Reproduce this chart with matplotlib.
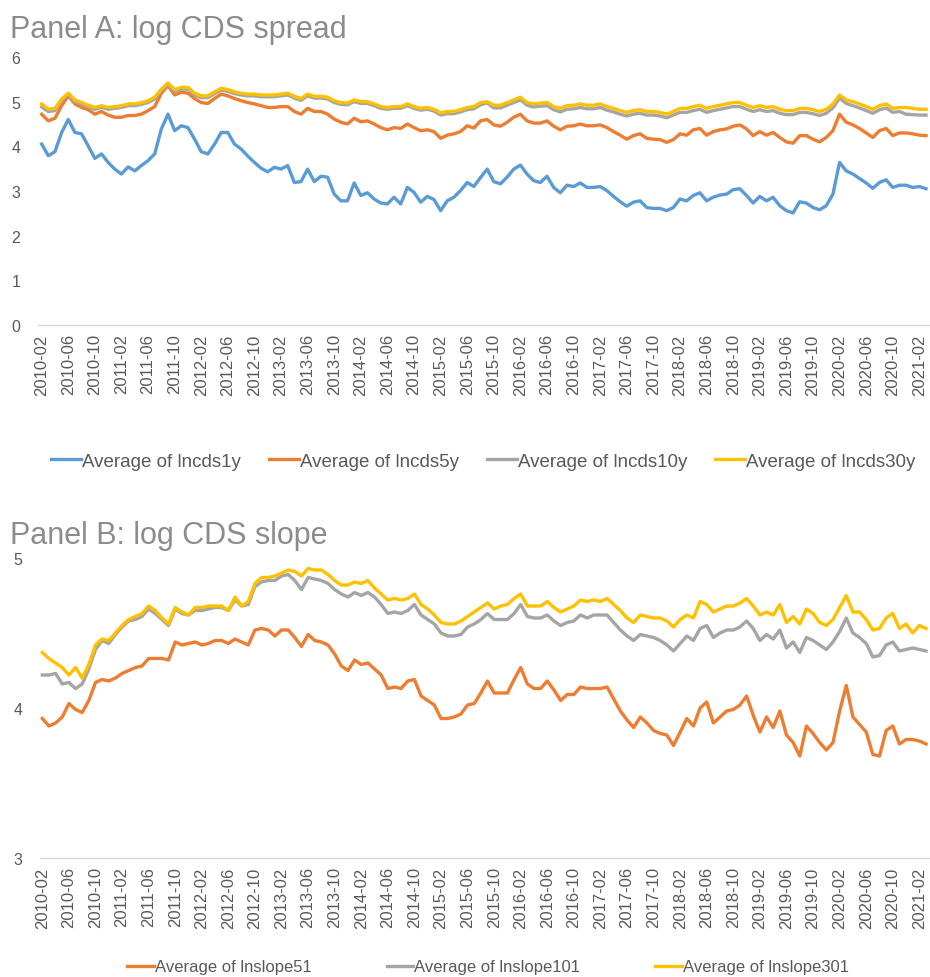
import numpy as np
import pandas as pd
import matplotlib
matplotlib.use("Agg")
import matplotlib.pyplot as plt

plt.rcParams['font.family'] = ['Liberation Sans', 'DejaVu Sans']

# monthly averages, 2010-02 .. 2021-03
months = pd.period_range('2010-02', '2021-03', freq='M').strftime('%Y-%m').tolist()

lncds1y = [4.05, 3.79, 3.88, 4.31, 4.60, 4.31, 4.28, 4.01, 3.73, 3.83,
           3.64, 3.49, 3.38, 3.54, 3.45, 3.57, 3.68, 3.83, 4.39, 4.72,
           4.35, 4.46, 4.42, 4.16, 3.88, 3.83, 4.05, 4.31, 4.31, 4.05,
           3.94, 3.78, 3.64, 3.51, 3.43, 3.53, 3.49, 3.57, 3.19, 3.21,
           3.49, 3.21, 3.33, 3.31, 2.93, 2.78, 2.78, 3.18, 2.90, 2.96,
           2.82, 2.73, 2.71, 2.86, 2.71, 3.08, 2.97, 2.75, 2.88, 2.81,
           2.56, 2.78, 2.86, 3.01, 3.19, 3.10, 3.30, 3.49, 3.21, 3.16,
           3.31, 3.49, 3.58, 3.38, 3.23, 3.19, 3.33, 3.08, 2.96, 3.13,
           3.10, 3.18, 3.08, 3.08, 3.10, 3.01, 2.88, 2.76, 2.66, 2.75,
           2.78, 2.63, 2.61, 2.61, 2.56, 2.63, 2.82, 2.78, 2.90, 2.96,
           2.78, 2.86, 2.91, 2.93, 3.03, 3.05, 2.90, 2.73, 2.88, 2.78,
           2.86, 2.67, 2.56, 2.51, 2.76, 2.73, 2.63, 2.58, 2.67, 2.93,
           3.64, 3.45, 3.38, 3.28, 3.18, 3.06, 3.19, 3.25, 3.08, 3.13,
           3.13, 3.08, 3.10, 3.05]
lncds5y = [4.72, 4.57, 4.63, 4.91, 5.13, 4.95, 4.87, 4.82, 4.72, 4.78,
           4.70, 4.65, 4.65, 4.69, 4.69, 4.72, 4.80, 4.89, 5.19, 5.36,
           5.15, 5.21, 5.19, 5.07, 4.98, 4.96, 5.07, 5.17, 5.13, 5.07,
           5.02, 4.98, 4.95, 4.91, 4.87, 4.87, 4.89, 4.89, 4.78, 4.72,
           4.85, 4.78, 4.78, 4.72, 4.61, 4.54, 4.50, 4.63, 4.55, 4.57,
           4.50, 4.42, 4.37, 4.42, 4.40, 4.50, 4.42, 4.35, 4.37, 4.33,
           4.18, 4.25, 4.28, 4.33, 4.46, 4.41, 4.57, 4.60, 4.48, 4.45,
           4.54, 4.65, 4.72, 4.57, 4.52, 4.52, 4.57, 4.45, 4.37, 4.45,
           4.46, 4.50, 4.46, 4.46, 4.48, 4.42, 4.33, 4.25, 4.16, 4.24,
           4.28, 4.18, 4.16, 4.15, 4.09, 4.15, 4.28, 4.25, 4.37, 4.40,
           4.25, 4.33, 4.37, 4.39, 4.45, 4.48, 4.39, 4.24, 4.33, 4.25,
           4.31, 4.20, 4.10, 4.07, 4.24, 4.24, 4.16, 4.10, 4.20, 4.35,
           4.72, 4.54, 4.48, 4.40, 4.30, 4.20, 4.35, 4.40, 4.24, 4.30,
           4.30, 4.28, 4.25, 4.24]
lncds10y = [4.88, 4.78, 4.80, 5.02, 5.16, 5.00, 4.94, 4.88, 4.83, 4.87,
            4.83, 4.85, 4.87, 4.91, 4.91, 4.94, 4.98, 5.06, 5.25, 5.38,
            5.23, 5.28, 5.28, 5.15, 5.09, 5.09, 5.18, 5.26, 5.23, 5.18,
            5.15, 5.13, 5.13, 5.11, 5.11, 5.11, 5.13, 5.15, 5.08, 5.03,
            5.13, 5.08, 5.08, 5.06, 4.98, 4.94, 4.93, 5.00, 4.96, 4.96,
            4.91, 4.85, 4.83, 4.85, 4.85, 4.91, 4.85, 4.81, 4.83, 4.79,
            4.70, 4.73, 4.73, 4.77, 4.82, 4.84, 4.93, 4.97, 4.86, 4.86,
            4.92, 4.98, 5.04, 4.92, 4.88, 4.90, 4.91, 4.82, 4.77, 4.83,
            4.84, 4.87, 4.84, 4.84, 4.87, 4.81, 4.77, 4.72, 4.68, 4.72,
            4.74, 4.70, 4.70, 4.68, 4.64, 4.70, 4.76, 4.76, 4.80, 4.83,
            4.76, 4.80, 4.83, 4.86, 4.89, 4.89, 4.83, 4.78, 4.82, 4.78,
            4.80, 4.74, 4.71, 4.71, 4.76, 4.76, 4.73, 4.69, 4.74, 4.86,
            5.08, 4.96, 4.91, 4.86, 4.80, 4.74, 4.82, 4.86, 4.76, 4.78,
            4.72, 4.71, 4.70, 4.70]
lncds30y = [4.95, 4.83, 4.85, 5.06, 5.19, 5.04, 4.98, 4.92, 4.87, 4.91,
            4.87, 4.89, 4.91, 4.95, 4.95, 4.98, 5.02, 5.10, 5.28, 5.42,
            5.27, 5.32, 5.32, 5.19, 5.13, 5.13, 5.22, 5.30, 5.27, 5.22,
            5.19, 5.17, 5.17, 5.15, 5.15, 5.15, 5.17, 5.19, 5.12, 5.07,
            5.17, 5.12, 5.12, 5.10, 5.02, 4.98, 4.97, 5.04, 5.00, 5.00,
            4.95, 4.89, 4.87, 4.89, 4.89, 4.95, 4.89, 4.85, 4.87, 4.83,
            4.75, 4.78, 4.78, 4.82, 4.87, 4.89, 4.98, 5.00, 4.92, 4.92,
            4.98, 5.04, 5.10, 4.98, 4.95, 4.97, 4.98, 4.89, 4.85, 4.91,
            4.92, 4.95, 4.92, 4.92, 4.95, 4.89, 4.85, 4.80, 4.76, 4.80,
            4.82, 4.78, 4.78, 4.76, 4.72, 4.78, 4.85, 4.85, 4.89, 4.92,
            4.85, 4.89, 4.92, 4.95, 4.98, 4.98, 4.92, 4.87, 4.91, 4.87,
            4.89, 4.83, 4.80, 4.80, 4.85, 4.85, 4.82, 4.78, 4.83, 4.95,
            5.15, 5.04, 5.00, 4.95, 4.89, 4.83, 4.91, 4.95, 4.85, 4.87,
            4.87, 4.85, 4.83, 4.83]

lnslope51 = [3.93, 3.88, 3.90, 3.94, 4.03, 3.99, 3.97, 4.05, 4.17, 4.19,
             4.18, 4.20, 4.23, 4.25, 4.27, 4.28, 4.33, 4.33, 4.33, 4.32,
             4.44, 4.42, 4.43, 4.44, 4.42, 4.43, 4.45, 4.45, 4.43, 4.46,
             4.44, 4.42, 4.52, 4.53, 4.52, 4.48, 4.52, 4.52, 4.47, 4.41,
             4.49, 4.45, 4.44, 4.42, 4.36, 4.28, 4.25, 4.32, 4.29, 4.30,
             4.26, 4.22, 4.13, 4.14, 4.13, 4.18, 4.19, 4.08, 4.05, 4.02,
             3.93, 3.93, 3.94, 3.96, 4.02, 4.03, 4.10, 4.18, 4.10, 4.10,
             4.10, 4.19, 4.27, 4.16, 4.13, 4.13, 4.18, 4.12, 4.05, 4.09,
             4.09, 4.14, 4.13, 4.13, 4.13, 4.14, 4.06, 3.98, 3.92, 3.87,
             3.94, 3.90, 3.85, 3.83, 3.82, 3.75, 3.84, 3.93, 3.88, 4.00,
             4.04, 3.90, 3.94, 3.98, 3.99, 4.02, 4.08, 3.95, 3.84, 3.94,
             3.87, 3.98, 3.82, 3.77, 3.68, 3.88, 3.83, 3.77, 3.72, 3.77,
             3.98, 4.15, 3.94, 3.89, 3.84, 3.69, 3.68, 3.85, 3.88, 3.76,
             3.79, 3.79, 3.78, 3.76]
lnslope101 = [4.22, 4.22, 4.23, 4.16, 4.17, 4.13, 4.16, 4.26, 4.39, 4.45,
              4.43, 4.49, 4.54, 4.58, 4.59, 4.61, 4.66, 4.63, 4.59, 4.55,
              4.66, 4.63, 4.62, 4.65, 4.65, 4.66, 4.67, 4.67, 4.65, 4.72,
              4.68, 4.69, 4.81, 4.84, 4.85, 4.85, 4.88, 4.89, 4.85, 4.79,
              4.87, 4.86, 4.85, 4.83, 4.79, 4.76, 4.74, 4.77, 4.75, 4.77,
              4.74, 4.69, 4.63, 4.64, 4.63, 4.65, 4.69, 4.62, 4.59, 4.56,
              4.50, 4.48, 4.48, 4.49, 4.54, 4.56, 4.59, 4.63, 4.59, 4.59,
              4.59, 4.63, 4.69, 4.61, 4.60, 4.60, 4.62, 4.58, 4.55, 4.57,
              4.58, 4.62, 4.60, 4.62, 4.62, 4.62, 4.57, 4.52, 4.48, 4.45,
              4.49, 4.48, 4.47, 4.45, 4.42, 4.38, 4.43, 4.48, 4.45, 4.53,
              4.55, 4.47, 4.50, 4.52, 4.52, 4.54, 4.58, 4.53, 4.45, 4.49,
              4.46, 4.52, 4.40, 4.44, 4.37, 4.47, 4.45, 4.42, 4.39, 4.44,
              4.51, 4.60, 4.50, 4.47, 4.43, 4.34, 4.35, 4.42, 4.44, 4.38,
              4.39, 4.40, 4.39, 4.38]
lnslope301 = [4.37, 4.33, 4.30, 4.27, 4.22, 4.27, 4.20, 4.29, 4.42, 4.46,
              4.45, 4.50, 4.55, 4.59, 4.61, 4.63, 4.68, 4.65, 4.60, 4.56,
              4.67, 4.64, 4.62, 4.67, 4.67, 4.68, 4.68, 4.68, 4.65, 4.74,
              4.68, 4.71, 4.83, 4.87, 4.87, 4.88, 4.90, 4.92, 4.91, 4.88,
              4.93, 4.92, 4.92, 4.89, 4.85, 4.82, 4.82, 4.84, 4.83, 4.85,
              4.80, 4.76, 4.72, 4.73, 4.72, 4.73, 4.76, 4.69, 4.66, 4.62,
              4.57, 4.56, 4.56, 4.58, 4.61, 4.64, 4.67, 4.70, 4.66, 4.68,
              4.69, 4.73, 4.76, 4.68, 4.68, 4.68, 4.71, 4.67, 4.64, 4.66,
              4.68, 4.72, 4.71, 4.72, 4.71, 4.73, 4.69, 4.65, 4.60, 4.57,
              4.62, 4.61, 4.60, 4.60, 4.58, 4.54, 4.59, 4.62, 4.60, 4.71,
              4.69, 4.64, 4.66, 4.68, 4.68, 4.70, 4.73, 4.68, 4.62, 4.64,
              4.62, 4.69, 4.57, 4.61, 4.56, 4.66, 4.63, 4.57, 4.55, 4.59,
              4.67, 4.75, 4.64, 4.64, 4.59, 4.52, 4.53, 4.60, 4.63, 4.53,
              4.56, 4.50, 4.55, 4.53]

BLUE, ORANGE, GREY, GOLD = '#5B9BD5', '#ED7D31', '#A5A5A5', '#FFC000'
TXT = '#595959'

x = np.arange(len(months))
tick_idx = x[::4]
tick_lab = [months[i] for i in tick_idx]

fig = plt.figure(figsize=(9.3, 9.78), dpi=100)


def style_axis(ax, ylo, yhi, xlo):
    ax.set_ylim(ylo, yhi)
    ax.set_yticks(np.arange(ylo, yhi + 1))
    ax.set_xlim(xlo, len(months) - 0.4)
    ax.set_xticks(tick_idx)
    ax.set_xticklabels(tick_lab, rotation=90, fontsize=12, color=TXT)
    ax.tick_params(axis='y', labelsize=11.5, labelcolor=TXT, length=0, pad=19)
    ax.tick_params(axis='x', length=0, pad=6)
    for s in ['top', 'right', 'left']:
        ax.spines[s].set_visible(False)
    ax.spines['bottom'].set_color('#D9D9D9')
    ax.spines['bottom'].set_linewidth(1.0)
    for lab in ax.get_yticklabels():
        lab.set_horizontalalignment('left')


lw = 2.4
leg_kw = dict(loc='center', frameon=False, labelcolor=TXT,
              handlelength=1.6, handletextpad=0.05, borderaxespad=0)

# Panel A
axA = fig.add_axes([38 / 930, 1 - 326 / 978, 892 / 930, 268 / 978])
axA.plot(x, lncds1y, color=BLUE, lw=lw, label='Average of lncds1y')
axA.plot(x, lncds5y, color=ORANGE, lw=lw, label='Average of lncds5y')
axA.plot(x, lncds10y, color=GREY, lw=lw, label='Average of lncds10y')
axA.plot(x, lncds30y, color=GOLD, lw=lw, label='Average of lncds30y')
style_axis(axA, 0, 6, -0.55)
fig.text(10 / 930, 1 - 30 / 978, 'Panel A: log CDS spread', fontsize=22,
         color='#8C8C8C', va='center', ha='left')
fig.legend(*axA.get_legend_handles_labels(), ncol=4, fontsize=13.5,
           bbox_to_anchor=(483 / 930, 1 - 462 / 978), columnspacing=1.5,
           **leg_kw)

# Panel B
axB = fig.add_axes([40 / 930, 1 - 859 / 978, 890 / 930, 300 / 978])
axB.plot(x, lnslope51, color=ORANGE, lw=lw, label='Average of lnslope51')
axB.plot(x, lnslope101, color=GREY, lw=lw, label='Average of lnslope101')
axB.plot(x, lnslope301, color=GOLD, lw=lw, label='Average of lnslope301')
style_axis(axB, 3, 5, -0.35)
fig.text(10 / 930, 1 - 536 / 978, 'Panel B: log CDS slope', fontsize=22,
         color='#8C8C8C', va='center', ha='left')
fig.legend(*axB.get_legend_handles_labels(), ncol=3, fontsize=12,
           bbox_to_anchor=(488 / 930, 1 - 968 / 978), columnspacing=4.5,
           **leg_kw)

fig.savefig('out.png', dpi=100)
